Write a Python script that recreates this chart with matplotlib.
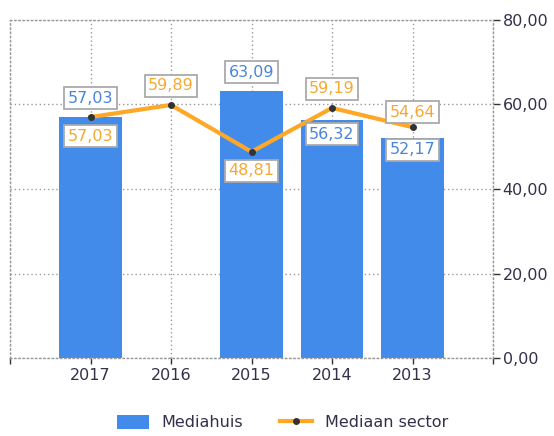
import matplotlib.pyplot as plt
import numpy as np

# data
years = ['2017', '2016', '2015', '2014', '2013']
mediahuis = [57.03, np.nan, 63.09, 56.32, 52.17]
mediaan_sector = [57.03, 59.89, 48.81, 59.19, 54.64]
y_ticks = [0, 20, 40, 60, 80]

# label offsets in pixels (positive = above the point)
bar_offsets = [19, 0, 19, -14, -12]
line_offsets = [-19, 19, -19, 19, 15]

blue = '#428BEA'
orange = '#FFA726'
grid_col = '#9a9a9a'
text_col = '#35304a'

fig = plt.figure(figsize=(5.54, 4.36), dpi=100)
ax = fig.add_axes([10 / 554, 1 - 358 / 436, 483 / 554, 338 / 436])

x = np.arange(len(years))
bars = ax.bar(x, mediahuis, width=0.78, color=blue, zorder=2, label='Mediahuis')
line, = ax.plot(x, mediaan_sector, color=orange, lw=3, zorder=3, marker='o',
                markersize=4, markerfacecolor='#333333',
                markeredgecolor='#333333', label='Mediaan sector')

ax.set_xlim(-1, len(years))
ax.set_ylim(0, 80)

box = dict(boxstyle='square,pad=0.22', fc='white', ec='#aaaaaa', lw=1.3)
px = 72 / 100
for i, (v, off) in enumerate(zip(mediahuis, bar_offsets)):
    if np.isnan(v):
        continue
    ax.annotate(f'{v:.2f}'.replace('.', ','), (x[i], v),
                xytext=(0, off * px), textcoords='offset points',
                ha='center', va='center', color='#4a84dc', fontsize=11.5,
                bbox=box, zorder=5)
for i, (v, off) in enumerate(zip(mediaan_sector, line_offsets)):
    ax.annotate(f'{v:.2f}'.replace('.', ','), (x[i], v),
                xytext=(0, off * px), textcoords='offset points',
                ha='center', va='center', color='#F5A833', fontsize=11.5,
                bbox=box, zorder=5)

# axes and grid
ax.set_xticks(np.arange(-1, len(years) + 1))
ax.set_xticklabels([''] + years + [''])
ax.yaxis.tick_right()
ax.set_yticks(y_ticks)
ax.set_yticklabels([f'{t:.2f}'.replace('.', ',') for t in y_ticks])
ax.tick_params(axis='x', direction='out', length=4, width=1, color='#333333',
               labelsize=11.5, labelcolor=text_col, pad=3)
ax.tick_params(axis='y', direction='out', length=5, width=1, color='#333333',
               labelsize=11.5, labelcolor=text_col, pad=2)
ax.grid(True, color=grid_col, linestyle=(0, (1, 2)), lw=1, zorder=0)
for s in ax.spines.values():
    s.set_color(grid_col)
    s.set_linestyle((0, (1, 2)))
    s.set_linewidth(1)

fig.legend([bars, line], ['Mediahuis', 'Mediaan sector'],
           loc='lower center', bbox_to_anchor=(0.51, -0.02), ncol=2,
           frameon=False, fontsize=11.5, handlelength=2.0, handleheight=1.0,
           columnspacing=2.3, labelcolor=text_col)

fig.savefig('out.png', dpi=100)
